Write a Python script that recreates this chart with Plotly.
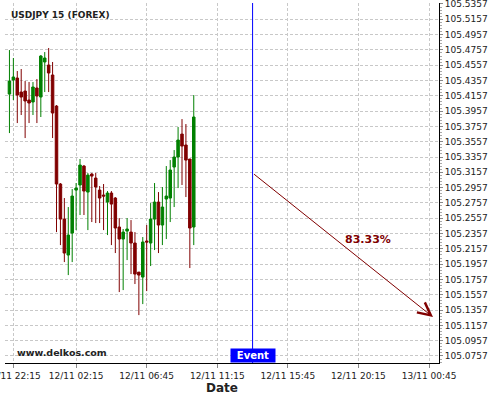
import pandas as pd
import plotly.graph_objects as go

# 15 minute USDJPY candles, 11/11 22:00 -> 12/11 09:45
start_time = "2020-11-11 22:00"
open_px = [105.4180, 105.4363, 105.4389, 105.4206, 105.4219, 105.4102, 105.4076, 105.4259,
           105.4141, 105.4599, 105.4559, 105.4429, 105.4023, 105.3004, 105.2546, 105.2076,
           105.2363, 105.2925, 105.2991, 105.3239, 105.2899, 105.3134, 105.3082, 105.2925,
           105.2860, 105.2768, 105.2886, 105.2821, 105.2442, 105.2285, 105.2389, 105.2376,
           105.2233, 105.1853, 105.1788, 105.2259, 105.2233, 105.2546, 105.2768, 105.2468,
           105.2808, 105.2821, 105.3226, 105.3357, 105.3657, 105.3514, 105.3331, 105.2442]
high_px = [105.4755, 105.4651, 105.4481, 105.4507, 105.4350, 105.4337, 105.4337, 105.4376,
           105.4690, 105.4729, 105.4782, 105.4599, 105.4036, 105.3017, 105.2821, 105.2703,
           105.2938, 105.3017, 105.3331, 105.3252, 105.3148, 105.3148, 105.3148, 105.2978,
           105.3004, 105.2912, 105.2912, 105.2834, 105.2559, 105.2416, 105.2559, 105.2533,
           105.2376, 105.1853, 105.2311, 105.2468, 105.2755, 105.3017, 105.2899, 105.2965,
           105.3239, 105.3317, 105.3448, 105.3749, 105.3853, 105.3788, 105.3331, 105.4167]
low_px = [105.3670, 105.4102, 105.3801, 105.3906, 105.3605, 105.3801, 105.3906, 105.3801,
          105.3880, 105.4206, 105.4206, 105.3605, 105.2376, 105.2206, 105.1984, 105.1814,
          105.1984, 105.2402, 105.2599, 105.2599, 105.2402, 105.2507, 105.2494, 105.2494,
          105.2402, 105.2337, 105.2206, 105.2102, 105.1592, 105.1618, 105.2010, 105.1827,
          105.1697, 105.1291, 105.1435, 105.1605, 105.1932, 105.2141, 105.2102, 105.2206,
          105.2285, 105.2507, 105.2703, 105.2951, 105.2991, 105.2834, 105.1906, 105.2206]
close_px = [105.4350, 105.4403, 105.4167, 105.4141, 105.4089, 105.4063, 105.4272, 105.4154,
            105.4677, 105.4651, 105.4455, 105.3932, 105.3004, 105.2546, 105.2102, 105.2337,
            105.2847, 105.2951, 105.3252, 105.2912, 105.3121, 105.3108, 105.2965, 105.2821,
            105.2847, 105.2886, 105.2742, 105.2429, 105.2285, 105.2376, 105.2416, 105.2233,
            105.1827, 105.1814, 105.2246, 105.2246, 105.2546, 105.2768, 105.2468, 105.2703,
            105.2847, 105.3187, 105.3357, 105.3579, 105.3500, 105.3317, 105.2429, 105.3880]

# axis ticks
price_ticks = [105.0757, 105.0957, 105.1157, 105.1357, 105.1557, 105.1757, 105.1957, 105.2157,
               105.2357, 105.2557, 105.2757, 105.2957, 105.3157, 105.3357, 105.3557, 105.3757,
               105.3957, 105.4157, 105.4357, 105.4557, 105.4757, 105.4957, 105.5157, 105.5357]
time_ticks = ["2020-11-11 22:15", "2020-11-12 02:15", "2020-11-12 06:45", "2020-11-12 11:15",
              "2020-11-12 15:45", "2020-11-12 20:15", "2020-11-13 00:45"]
time_labels = ["11/11 22:15", "12/11 02:15", "12/11 06:45", "12/11 11:15",
               "12/11 15:45", "12/11 20:15", "13/11 00:45"]

# event + forecast
event_time = "2020-11-12 13:30"
arrow_start = ("2020-11-12 13:30", 105.3148)
arrow_end = ("2020-11-13 01:00", 105.1265)
label_pos = ("2020-11-12 20:50", 105.2285)
prob_text = "83.33%"

times = pd.date_range(start_time, periods=len(open_px), freq="15min")

FONT = "DejaVu Sans"
GRID = "#c8c8c8"
DARKRED = "#800000"

fig = go.Figure()
fig.add_trace(go.Candlestick(
    x=times, open=open_px, high=high_px, low=low_px, close=close_px,
    increasing=dict(line=dict(color="#008000", width=1), fillcolor="#008000"),
    decreasing=dict(line=dict(color=DARKRED, width=1), fillcolor=DARKRED),
    whiskerwidth=0, showlegend=False, hoverinfo="skip",
))

# event marker
fig.add_shape(type="line", xref="x", yref="paper", x0=event_time, x1=event_time,
              y0=0, y1=1, line=dict(color="#0000ff", width=1))
fig.add_annotation(x=event_time, xref="x", y=0, yref="paper", yanchor="bottom",
                   text="<b>Event</b>", showarrow=False, bgcolor="#0000ff",
                   font=dict(family=FONT, size=10, color="white"), borderpad=1,
                   width=42)

# forecast arrow
fig.add_annotation(x=arrow_end[0], y=arrow_end[1], ax=arrow_start[0], ay=arrow_start[1],
                   xref="x", yref="y", axref="x", ayref="y", text="", showarrow=True,
                   arrowhead=5, arrowsize=2.5, arrowwidth=1, arrowcolor=DARKRED)
fig.add_annotation(x=label_pos[0], y=label_pos[1], text="<b>%s</b>" % prob_text,
                   showarrow=False, font=dict(family=FONT, size=11, color=DARKRED))

fig.add_annotation(x=0.01, xref="paper", y=0.985, yref="paper", xanchor="left", yanchor="top",
                   text="<b>USDJPY 15 (FOREX)</b>", showarrow=False,
                   font=dict(family=FONT, size=9, color="#222"))
fig.add_annotation(x=0.022, xref="paper", y=0.008, yref="paper", xanchor="left", yanchor="bottom",
                   text="<b>www.delkos.com</b>", showarrow=False,
                   font=dict(family=FONT, size=9.5, color="#222"))

fig.update_layout(
    width=500, height=400,
    margin=dict(l=5, r=61, t=3, b=37),
    paper_bgcolor="white", plot_bgcolor="white",
    boxgap=0.2, boxgroupgap=0.2,
    font=dict(family=FONT, size=9, color="#222"),
)
fig.update_xaxes(
    type="date", range=["2020-11-11 21:43", "2020-11-13 01:23"],
    rangeslider_visible=False, automargin=False,
    tickmode="array", tickvals=time_ticks, ticktext=time_labels,
    ticks="outside", ticklen=4, tickcolor="#888", ticklabeloverflow="allow",
    showgrid=True, gridcolor=GRID, griddash="3px,2px", gridwidth=1,
    showline=True, linecolor="black", linewidth=1,
    title=dict(text="<b>Date</b>", font=dict(family=FONT, size=12, color="#222"), standoff=2),
    zeroline=False,
)
fig.update_yaxes(
    side="right", range=[105.0665, 105.5370], automargin=False,
    tickmode="array", tickvals=price_ticks, ticktext=["%.4f" % v for v in price_ticks],
    ticks="outside", ticklen=3, tickcolor="#888", ticklabeloverflow="allow",
    minor=dict(ticks="outside", ticklen=2, tickcolor="#aaa", tick0=105.0757, dtick=0.004,
               showgrid=False),
    showgrid=True, gridcolor=GRID, griddash="3px,2px", gridwidth=1,
    showline=True, linecolor="black", linewidth=1,
    zeroline=False,
)

# page body has a default 8px margin; drop it so the 500x400 figure fills the window
fig.write_html("out.html", config={"displayModeBar": False},
               post_script="document.body.style.margin='0';")
